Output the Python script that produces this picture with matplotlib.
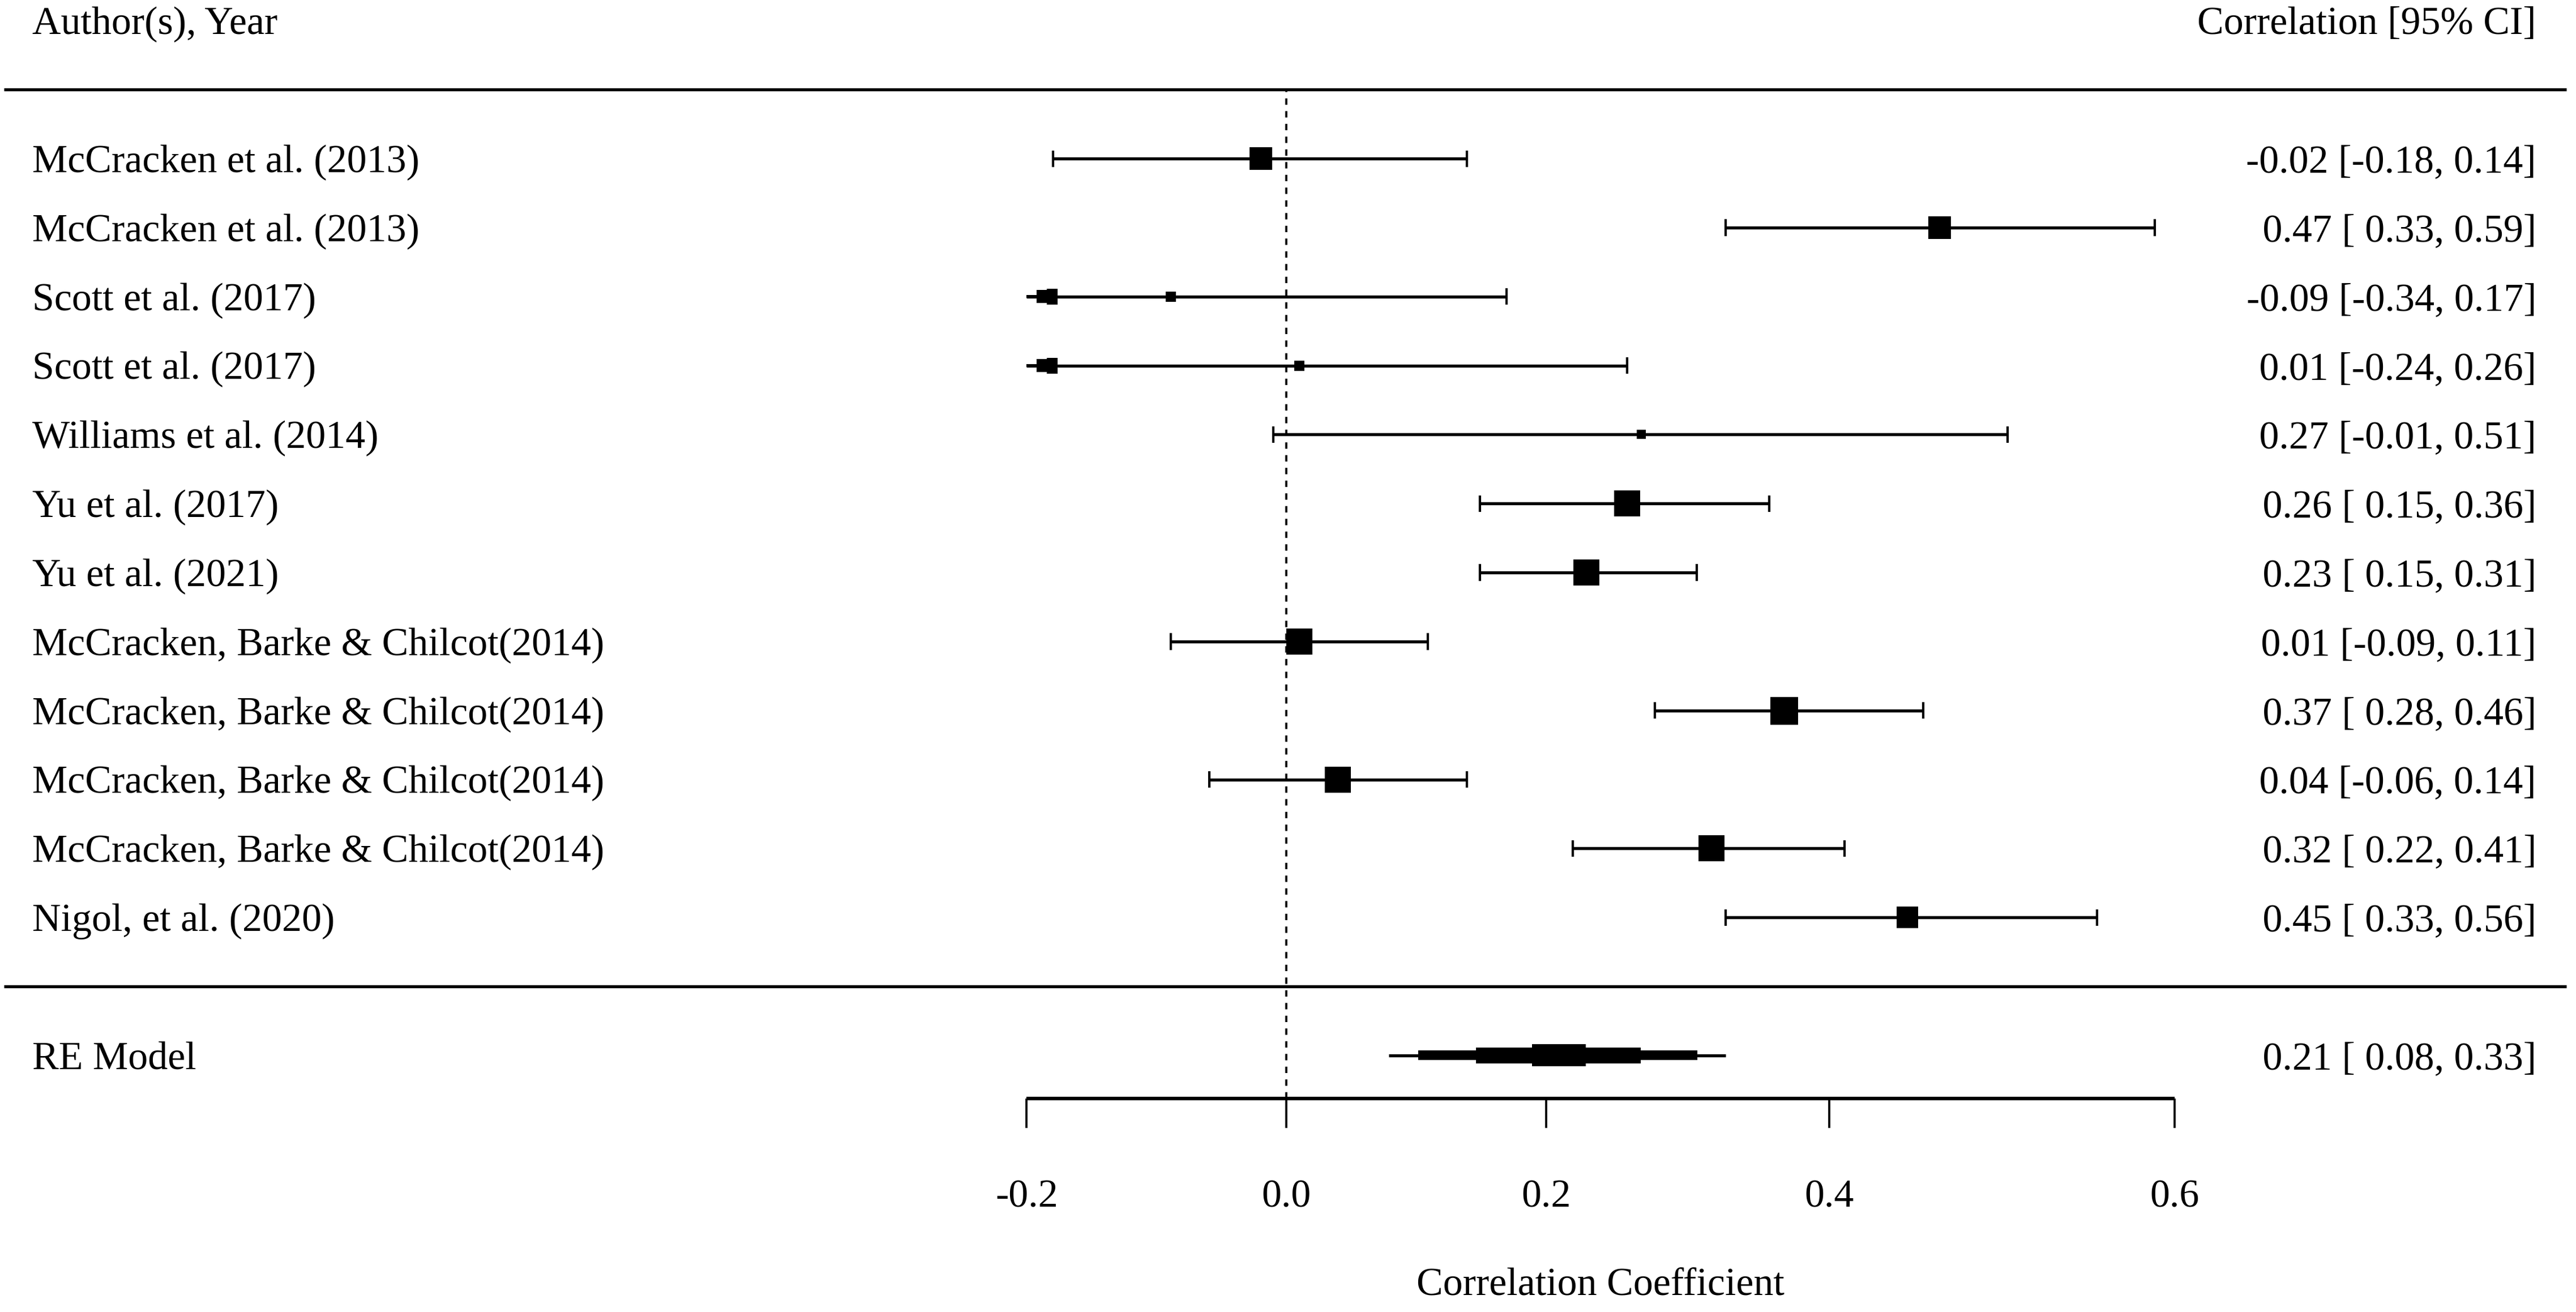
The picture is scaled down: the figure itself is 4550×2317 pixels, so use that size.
import numpy as np
import matplotlib
matplotlib.use('Agg')
import matplotlib.pyplot as plt
from matplotlib.patches import Polygon, Rectangle

# study data (correlations, 95% CI)
authors = [
    "McCracken et al. (2013)",
    "McCracken et al. (2013)",
    "Scott et al. (2017)",
    "Scott et al. (2017)",
    "Williams et al. (2014)",
    "Yu et al. (2017)",
    "Yu et al. (2021)",
    "McCracken, Barke & Chilcot(2014)",
    "McCracken, Barke & Chilcot(2014)",
    "McCracken, Barke & Chilcot(2014)",
    "McCracken, Barke & Chilcot(2014)",
    "Nigol, et al. (2020)",
]
est = [-0.02, 0.47, -0.09, 0.01, 0.27, 0.26, 0.23, 0.01, 0.37, 0.04, 0.32, 0.45]
ci_lb = [-0.18, 0.33, -0.34, -0.24, -0.01, 0.15, 0.15, -0.09, 0.28, -0.06, 0.22, 0.33]
ci_ub = [0.14, 0.59, 0.17, 0.26, 0.51, 0.36, 0.31, 0.11, 0.46, 0.14, 0.41, 0.56]
weights = [7.7, 7.7, 4.0, 4.0, 3.5, 8.8, 9.0, 9.1, 9.5, 8.8, 8.8, 7.5]

re_label = "RE Model"
re_est, re_lb, re_ub = 0.21, 0.08, 0.33

tick_r = [-0.2, 0.0, 0.2, 0.4, 0.6]
xlabel = "Correlation Coefficient"
head_left = "Author(s), Year"
head_right = "Correlation [95% CI]"

FONT = "Liberation Serif"
FS = 16.8
DPI = 300
k = len(est)
rows = np.arange(k, 0, -1)
z = np.arctanh  # plotted on Fisher z scale, labelled as r
alim = (z(tick_r[0]), z(tick_r[-1]))
base_off = 0.196  # baseline offset (rows) so caps are centred on the row

fig = plt.figure(figsize=(4550 / DPI, 2317 / DPI), dpi=DPI)
ax = fig.add_axes([0, 0, 1, 1])
ax.set_xlim(-1.004, 1.0066)
ax.set_ylim(-4.72, 14.30)
ax.set_axis_off()

def txt(x, y, s, ha="left"):
    ax.text(x, y - base_off, s, ha=ha, va="baseline", fontsize=FS, family=FONT)

def fmt_col(vals):
    s = ["%.2f" % v for v in vals]
    w = max(len(t) for t in s)
    return [t.rjust(w) for t in s]

def arrow(x_tip, y, direction):
    # small stepped arrowhead, like the clipped-CI marker in the original
    d = direction
    steps = [(0.0, 0.02), (0.008, 0.02), (0.008, 0.095), (0.016, 0.095),
             (0.016, 0.115), (0.024, 0.115)]
    top = [(x_tip + d * dx, y + h) for dx, h in steps]
    bot = [(x_tip + d * dx, y - h) for dx, h in steps[::-1]]
    ax.add_patch(Polygon(top + bot, closed=True, facecolor="black",
                         edgecolor="none", zorder=4))

col_e = fmt_col(est + [re_est])
col_l = fmt_col(ci_lb + [re_lb])
col_u = fmt_col(ci_ub + [re_ub])
labels_right = ["%s [%s, %s]" % (a, b, c) for a, b, c in zip(col_e, col_l, col_u)]

xl, xr = -0.9788, 0.9757

# separators and reference line
ax.hlines([k + 1, 0], -1.001, 0.999, color="black", lw=1.3)
ax.vlines(0.0, -1.627, k + 1, color="black", lw=0.9, linestyles=(0, (3, 3)))

# headers
txt(xl, k + 2, head_left)
txt(xr, k + 2, head_right, ha="right")

wmin, wmax = min(weights), max(weights)
cap_h = 0.12
for i in range(k):
    y = rows[i]
    lo, hi = z(ci_lb[i]), z(ci_ub[i])
    lo_c = max(lo, alim[0])
    hi_c = min(hi, alim[1])
    ax.plot([lo_c, hi_c], [y, y], color="black", lw=1.3, solid_capstyle="butt")
    if lo < alim[0]:
        arrow(alim[0], y, 1)
    else:
        ax.vlines(lo, y - cap_h, y + cap_h, color="black", lw=1.0)
    if hi > alim[1]:
        arrow(alim[1], y, -1)
    else:
        ax.vlines(hi, y - cap_h, y + cap_h, color="black", lw=1.0)
    side_px = 16 + (weights[i] - wmin) / (wmax - wmin) * 33
    ax.plot(z(est[i]), y, marker="s", ms=side_px * 72 / DPI, color="black",
            markeredgewidth=0, zorder=5)
    txt(xl, y, authors[i])
    txt(xr, y, labels_right[i], ha="right")

# RE model summary (stepped polygon)
yre = -1
ze, zl, zu = z(re_est), z(re_lb), z(re_ub)
ax.plot([zl, zu], [yre, yre], color="black", lw=1.3, solid_capstyle="butt")
for frac, h in [(0.83, 0.139), (0.49, 0.229), (0.16, 0.319)]:
    x0 = ze - frac * (ze - zl)
    x1 = ze + frac * (zu - ze)
    ax.add_patch(Rectangle((x0, yre - h / 2), x1 - x0, h, facecolor="black",
                           edgecolor="none", zorder=4))
txt(xl, yre, re_label)
txt(xr, yre, labels_right[-1], ha="right")

# x axis (Fisher z positions, r labels)
y_ax = -1.627
ax.plot([alim[0], alim[1]], [y_ax, y_ax], color="black", lw=1.5, solid_capstyle="butt")
for r in tick_r:
    ax.vlines(z(r), -2.05, y_ax, color="black", lw=0.9)
    txt(z(r), -3.0, "%.1f" % r, ha="center")
txt((alim[0] + alim[1]) / 2, -4.27, xlabel, ha="center")

fig.savefig("out.png", dpi=DPI, facecolor="white")
